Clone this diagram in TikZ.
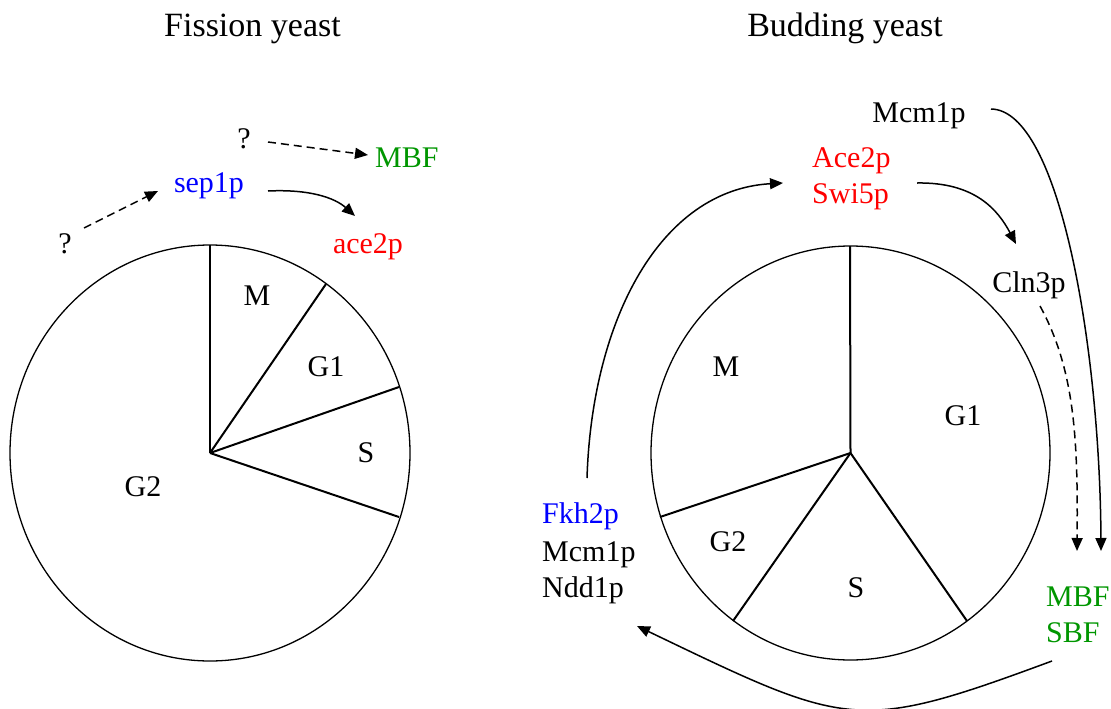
\documentclass[tikz,border=0pt]{standalone}
\usepackage{fontspec}
\setmainfont{Liberation Serif}
\usetikzlibrary{arrows.meta}
\definecolor{regred}{RGB}{255,0,0}
\definecolor{regblue}{RGB}{0,0,255}
\definecolor{reggreen}{RGB}{0,150,0}
\begin{document}
\begin{tikzpicture}[x=1pt,y=-1pt,
  lbl/.style={font=\fontsize{30}{36}\selectfont, inner sep=0pt, anchor=base},
  ttl/.style={font=\fontsize{34}{40}\selectfont, inner sep=0pt, anchor=base},
  rim/.style={line width=1.3pt},
  spoke/.style={line width=2pt},
  arr/.style={line width=1.5pt, -{Triangle[length=13pt,width=11pt]}},
  darr/.style={arr, dash pattern=on 8pt off 5pt}]
\useasboundingbox (0,0) rectangle (1111,709);

% ---------- titles ----------
\node[ttl] (tfis) at (252.5,37) {Fission yeast};
\node[ttl] (tbud) at (845,37) {Budding yeast};

% ---------- fission yeast cycle ----------
\coordinate (fc) at (210,453);
\draw[rim] (fc) ellipse [x radius=200, y radius=208];
\coordinate (f1) at (210,245);
\coordinate (f2) at (326,284);
\coordinate (f3) at (399,387);
\coordinate (f4) at (399,517);
\foreach \p in {f1,f2,f3,f4} \draw[spoke] (fc) -- (\p);
\node[lbl] (fM)  at (257,305) {M};
\node[lbl] (fG1) at (326,376) {G1};
\node[lbl] (fS)  at (366,462) {S};
\node[lbl] (fG2) at (143,496) {G2};

% regulators
\node[lbl] (qa) at (65,253) {?};
\node[lbl, text=regblue] (sep) at (209,192) {sep1p};
\node[lbl] (qb) at (244,148) {?};
\node[lbl, text=reggreen, anchor=base west] (fmbf) at (375,167) {MBF};
\node[lbl, text=regred] (ace) at (368,253) {ace2p};

\coordinate (qa-out) at (84,228);
\coordinate (sep-in) at (158,191);
\coordinate (qb-out) at (268,142);
\coordinate (fmbf-in) at (368,155);
\coordinate (sep-out) at (268,191);
\coordinate (ace-in) at (355,216);
\draw[darr] (qa-out) -- (sep-in);
\draw[darr] (qb-out) -- (fmbf-in);
\draw[arr] (sep-out) .. controls (310,189) and (335,198) .. (ace-in);

% ---------- budding yeast cycle ----------
\coordinate (bc) at (850.5,453);
\draw[rim] (bc) ellipse [x radius=199.5, y radius=207];
\coordinate (b1) at (850,246);
\coordinate (b2) at (660,517);
\coordinate (b3) at (733,621);
\coordinate (b4) at (967,621);
\foreach \p in {b1,b2,b3,b4} \draw[spoke] (bc) -- (\p);
\node[lbl] (bM)  at (726,376) {M};
\node[lbl] (bG1) at (963,425) {G1};
\node[lbl] (bG2) at (728,551) {G2};
\node[lbl] (bS)  at (856,597) {S};

% regulators
\node[lbl] (mcmtop) at (919,122) {Mcm1p};
\node[lbl, text=regred, anchor=base west] (ace2) at (812,167) {Ace2p};
\node[lbl, text=regred, anchor=base west] (swi5) at (812,203) {Swi5p};
\node[lbl] (cln3) at (1029,292) {Cln3p};
\node[lbl, text=reggreen, anchor=base west] (bmbf) at (1046,606) {MBF};
\node[lbl, text=reggreen, anchor=base west] (bsbf) at (1046,642) {SBF};
\node[lbl, text=regblue, anchor=base west] (fkh2) at (542,523) {Fkh2p};
\node[lbl, anchor=base west] (mcmlow) at (542,561) {Mcm1p};
\node[lbl, anchor=base west] (ndd1) at (542,597) {Ndd1p};

\coordinate (fkh2-out) at (587,478);
\coordinate (ace2-in) at (783,183);
\coordinate (swi5-out) at (917,183);
\coordinate (cln3-in) at (1016,244);
\coordinate (cln3-out) at (1040,306);
\coordinate (mbf-in1) at (1077,551);
\coordinate (mcmtop-out) at (991,109);
\coordinate (mbf-in2) at (1101,551);
\coordinate (sbf-out) at (1052,661);
\coordinate (ndd1-in) at (637,626);

\draw[arr] (fkh2-out) .. controls (592,320) and (660,190) .. (ace2-in);
\draw[arr] (swi5-out) .. controls (975,182) and (998,210) .. (cln3-in);
\draw[darr] (cln3-out) .. controls (1075,370) and (1078,440) .. (mbf-in1);
\draw[arr] (mcmtop-out) .. controls (1060,110) and (1100,350) .. (mbf-in2);
\draw[arr] (sbf-out) .. controls (856,733.5) and (849,727.8) .. (ndd1-in);
\end{tikzpicture}
\end{document}
